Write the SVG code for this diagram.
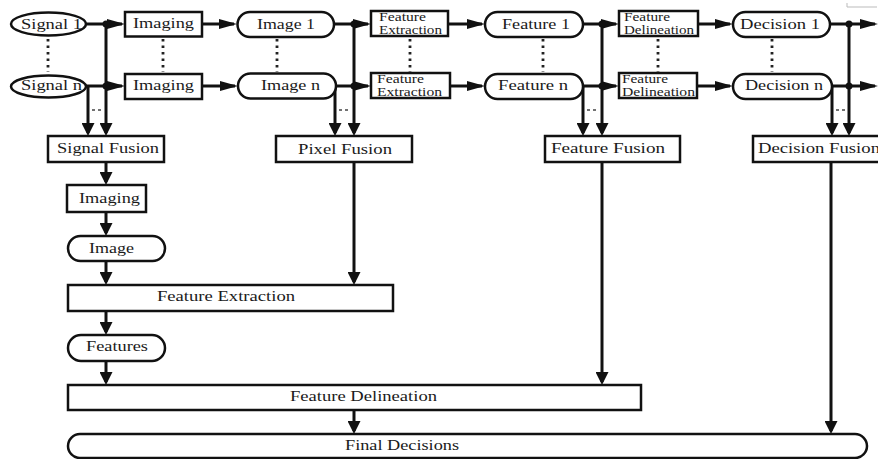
<svg xmlns="http://www.w3.org/2000/svg" width="878" height="459" viewBox="0 0 878 459">
<style>
.b{fill:#fff;stroke:#111;stroke-width:2.5}
.c{fill:none;stroke:#111;stroke-width:3}
.d{fill:none;stroke:#222;stroke-width:2.8;stroke-dasharray:2.5 4}
.s{fill:none;stroke:#444;stroke-width:1.5;stroke-dasharray:3 3}
.t{font-family:"Liberation Serif","Times New Roman",serif;font-size:14px;fill:#1a1a1a}
.m{font-family:"Liberation Serif","Times New Roman",serif;font-size:12px;fill:#1a1a1a}
</style>
<defs>
<marker id="ah" markerUnits="userSpaceOnUse" markerWidth="18" markerHeight="10" refX="15" refY="5" orient="auto"><path d="M0,0L18,5L0,10z" fill="#111"/></marker>
<marker id="av" markerUnits="userSpaceOnUse" markerWidth="13" markerHeight="13" refX="10" refY="6.5" orient="auto"><path d="M0,0L13,6.5L0,13z" fill="#111"/></marker>
</defs>
<rect width="878" height="459" fill="#fff"/>
<path d="M847,3V7H877" fill="none" stroke="#bbb" stroke-width="1"/>

<g id="connectors">
<line class="c" x1="86" y1="24" x2="122" y2="24" marker-end="url(#ah)"/>
<line class="c" x1="106" y1="24" x2="106" y2="133" marker-end="url(#av)"/>
<line class="c" x1="86" y1="86" x2="122" y2="86" marker-end="url(#ah)"/>
<line class="c" x1="88" y1="86" x2="88" y2="133" marker-end="url(#av)"/>
<line class="c" x1="202" y1="24" x2="234" y2="24" marker-end="url(#ah)"/>
<line class="c" x1="202" y1="86" x2="235" y2="86" marker-end="url(#ah)"/>
<line class="c" x1="334" y1="24" x2="368" y2="24" marker-end="url(#ah)"/>
<line class="c" x1="354" y1="24" x2="354" y2="133" marker-end="url(#av)"/>
<line class="c" x1="336" y1="86" x2="368" y2="86" marker-end="url(#ah)"/>
<line class="c" x1="335" y1="86" x2="335" y2="133" marker-end="url(#av)"/>
<line class="c" x1="448" y1="24" x2="482" y2="24" marker-end="url(#ah)"/>
<line class="c" x1="450" y1="86" x2="482" y2="86" marker-end="url(#ah)"/>
<line class="c" x1="583" y1="24" x2="616" y2="24" marker-end="url(#ah)"/>
<line class="c" x1="602" y1="24" x2="602" y2="133" marker-end="url(#av)"/>
<line class="c" x1="583" y1="86" x2="616" y2="86" marker-end="url(#ah)"/>
<line class="c" x1="583" y1="86" x2="583" y2="133" marker-end="url(#av)"/>
<line class="c" x1="698" y1="24" x2="730" y2="24" marker-end="url(#ah)"/>
<line class="c" x1="697" y1="86" x2="730" y2="86" marker-end="url(#ah)"/>
<line class="c" x1="830" y1="24" x2="875" y2="24" marker-end="url(#ah)"/>
<line class="c" x1="849" y1="24" x2="849" y2="133" marker-end="url(#av)"/>
<line class="c" x1="832" y1="86" x2="875" y2="86" marker-end="url(#ah)"/>
<line class="c" x1="832" y1="86" x2="832" y2="133" marker-end="url(#av)"/>
<circle cx="106" cy="24" r="3.5" fill="#111"/>
<circle cx="106" cy="86" r="3.5" fill="#111"/>
<circle cx="354" cy="24" r="3.5" fill="#111"/>
<circle cx="354" cy="86" r="3.5" fill="#111"/>
<circle cx="602" cy="24" r="3.5" fill="#111"/>
<circle cx="602" cy="86" r="3.5" fill="#111"/>
<circle cx="849" cy="24" r="3.5" fill="#111"/>
<circle cx="849" cy="86" r="3.5" fill="#111"/>
<line class="s" x1="92" y1="110" x2="103" y2="110"/>
<line class="s" x1="339" y1="110" x2="350" y2="110"/>
<line class="s" x1="587" y1="110" x2="598" y2="110"/>
<line class="s" x1="836" y1="110" x2="846" y2="110"/>
<line class="d" x1="48" y1="39" x2="48" y2="72"/>
<line class="d" x1="163" y1="39" x2="163" y2="72"/>
<line class="d" x1="277" y1="39" x2="277" y2="72"/>
<line class="d" x1="410" y1="39" x2="410" y2="72"/>
<line class="d" x1="543" y1="39" x2="543" y2="72"/>
<line class="d" x1="658" y1="39" x2="658" y2="72"/>
<line class="d" x1="772" y1="39" x2="772" y2="72"/>
<line class="c" x1="106" y1="162" x2="106" y2="182" marker-end="url(#av)"/>
<line class="c" x1="106" y1="212" x2="106" y2="233" marker-end="url(#av)"/>
<line class="c" x1="106" y1="261" x2="106" y2="282" marker-end="url(#av)"/>
<line class="c" x1="106" y1="311" x2="106" y2="332" marker-end="url(#av)"/>
<line class="c" x1="106" y1="361" x2="106" y2="382" marker-end="url(#av)"/>
<line class="c" x1="354" y1="162" x2="354" y2="282" marker-end="url(#av)"/>
<line class="c" x1="602" y1="162" x2="602" y2="382" marker-end="url(#av)"/>
<line class="c" x1="354" y1="410" x2="354" y2="431" marker-end="url(#av)"/>
<line class="c" x1="831" y1="162" x2="831" y2="431" marker-end="url(#av)"/>
</g>

<g id="signal1"><ellipse class="b" cx="48.5" cy="24" rx="37.5" ry="11.5"/><text class="t" x="21" y="28.5" textLength="61" lengthAdjust="spacingAndGlyphs">Signal 1</text></g>
<g id="signaln"><ellipse class="b" cx="48.5" cy="86.5" rx="37.5" ry="11"/><text class="t" x="21" y="90" textLength="61" lengthAdjust="spacingAndGlyphs">Signal n</text></g>
<g id="imaging1"><rect class="b" x="125" y="12" width="77" height="24.5"/><text class="t" x="133" y="28" textLength="61" lengthAdjust="spacingAndGlyphs">Imaging</text></g>
<g id="imagingn"><rect class="b" x="125" y="74" width="77" height="25"/><text class="t" x="133" y="90" textLength="61" lengthAdjust="spacingAndGlyphs">Imaging</text></g>
<g id="image1"><rect class="b" x="237.5" y="12" width="96.5" height="25" rx="12.5"/><text class="t" x="257" y="28.5" textLength="58" lengthAdjust="spacingAndGlyphs">Image 1</text></g>
<g id="imagen"><rect class="b" x="238" y="73.5" width="98" height="25" rx="12.5"/><text class="t" x="261" y="90" textLength="59" lengthAdjust="spacingAndGlyphs">Image n</text></g>
<g id="fe1"><rect class="b" x="371" y="11" width="77" height="25"/><text class="m" x="379" y="20.5" textLength="47" lengthAdjust="spacingAndGlyphs">Feature</text><text class="m" x="379" y="33.5" textLength="63" lengthAdjust="spacingAndGlyphs">Extraction</text></g>
<g id="fen"><rect class="b" x="371" y="73" width="79" height="25"/><text class="m" x="377" y="82.5" textLength="47" lengthAdjust="spacingAndGlyphs">Feature</text><text class="m" x="377" y="95.5" textLength="65" lengthAdjust="spacingAndGlyphs">Extraction</text></g>
<g id="feature1"><rect class="b" x="485" y="12" width="98" height="25" rx="12.5"/><text class="t" x="502" y="28.5" textLength="68" lengthAdjust="spacingAndGlyphs">Feature 1</text></g>
<g id="featuren"><rect class="b" x="485" y="74" width="98" height="25" rx="12.5"/><text class="t" x="498" y="90" textLength="70" lengthAdjust="spacingAndGlyphs">Feature n</text></g>
<g id="fd1"><rect class="b" x="619" y="11" width="79" height="25"/><text class="m" x="624" y="20.5" textLength="46" lengthAdjust="spacingAndGlyphs">Feature</text><text class="m" x="624" y="33.5" textLength="70" lengthAdjust="spacingAndGlyphs">Delineation</text></g>
<g id="fdn"><rect class="b" x="619" y="73" width="78" height="25"/><text class="m" x="622" y="82.5" textLength="46" lengthAdjust="spacingAndGlyphs">Feature</text><text class="m" x="622" y="95.5" textLength="73" lengthAdjust="spacingAndGlyphs">Delineation</text></g>
<g id="decision1"><rect class="b" x="733" y="12" width="97" height="25" rx="12.5"/><text class="t" x="740" y="28.5" textLength="80" lengthAdjust="spacingAndGlyphs">Decision 1</text></g>
<g id="decisionn"><rect class="b" x="733" y="74" width="99" height="25" rx="12.5"/><text class="t" x="745" y="89.5" textLength="78" lengthAdjust="spacingAndGlyphs">Decision n</text></g>
<g id="signalfusion"><rect class="b" x="48" y="136" width="116" height="26"/><text class="t" x="57" y="153" textLength="102" lengthAdjust="spacingAndGlyphs">Signal Fusion</text></g>
<g id="pixelfusion"><rect class="b" x="276" y="136" width="136" height="26"/><text class="t" x="298" y="153.5" textLength="94" lengthAdjust="spacingAndGlyphs">Pixel Fusion</text></g>
<g id="featurefusion"><rect class="b" x="545" y="136" width="135" height="26"/><text class="t" x="551" y="153" textLength="114" lengthAdjust="spacingAndGlyphs">Feature Fusion</text></g>
<g id="decisionfusion"><rect class="b" x="753" y="136" width="130" height="26"/><text class="t" x="758" y="153" textLength="122" lengthAdjust="spacingAndGlyphs">Decision Fusion</text></g>
<g id="imaging"><rect class="b" x="67" y="185" width="79" height="27"/><text class="t" x="79" y="202.5" textLength="61" lengthAdjust="spacingAndGlyphs">Imaging</text></g>
<g id="image"><rect class="b" x="68" y="236" width="97" height="25" rx="12.5"/><text class="t" x="89" y="252.5" textLength="45" lengthAdjust="spacingAndGlyphs">Image</text></g>
<g id="featureextraction"><rect class="b" x="68" y="285" width="325" height="26"/><text class="t" x="157" y="301" textLength="138" lengthAdjust="spacingAndGlyphs">Feature Extraction</text></g>
<g id="features"><rect class="b" x="68" y="335" width="97" height="26" rx="13"/><text class="t" x="86" y="351" textLength="62" lengthAdjust="spacingAndGlyphs">Features</text></g>
<g id="featuredelineation"><rect class="b" x="68" y="385" width="573" height="25"/><text class="t" x="290" y="401" textLength="147" lengthAdjust="spacingAndGlyphs">Feature Delineation</text></g>
<g id="finaldecisions"><rect class="b" x="68" y="434" width="799" height="24" rx="12"/><text class="t" x="345" y="450" textLength="114" lengthAdjust="spacingAndGlyphs">Final Decisions</text></g>
</svg>
